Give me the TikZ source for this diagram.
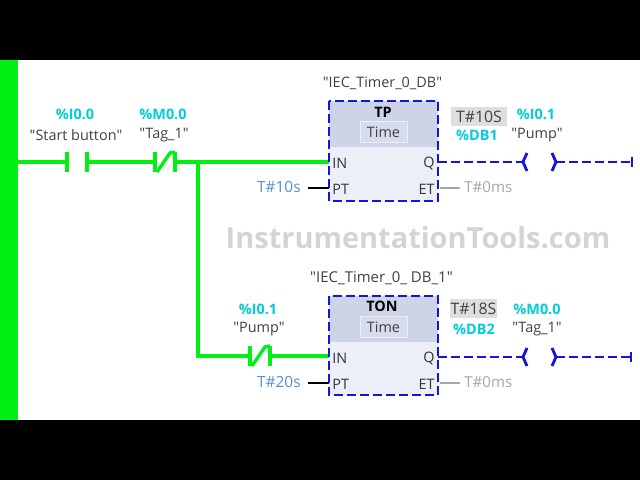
\documentclass[tikz,border=0pt]{standalone}
\usepackage{fontspec}
\setmainfont{Open Sans}[Ligatures=TeXOff]
\usetikzlibrary{positioning}
\definecolor{railgreen}{RGB}{0,240,20}
\definecolor{flowblue}{RGB}{20,20,225}
\definecolor{addrcyan}{RGB}{0,205,215}
\definecolor{timeblue}{RGB}{80,145,210}
\definecolor{headfill}{RGB}{205,212,232}
\definecolor{bodyfill}{RGB}{236,238,248}
\definecolor{timefill}{RGB}{214,220,236}
\tikzstyle{wire}   = [railgreen,line width=1.9pt]
\tikzstyle{wirebold} = [railgreen,line width=2.3pt]
\tikzstyle{flow}   = [flowblue,line width=1.5pt,dash pattern=on 5pt off 2.4pt]
\tikzstyle{flowthin} = [flowblue,line width=1.1pt,dash pattern=on 5pt off 2.4pt]
\tikzstyle{coil}   = [flowblue,line width=1.6pt]
\tikzstyle{addr}   = [text=addrcyan,font=\fontsize{8.2}{10}\selectfont\bfseries,inner sep=0pt]
\tikzstyle{tag}    = [text=black!75,font=\fontsize{8.2}{10}\selectfont,inner sep=0pt]
\tikzstyle{pin}    = [text=black!80,font=\fontsize{8.2}{10}\selectfont,inner sep=0pt]
\tikzstyle{timeval}= [text=timeblue,font=\fontsize{8.8}{10}\selectfont,inner sep=0pt]
\tikzstyle{zeroval}= [text=black!35,font=\fontsize{8.6}{10}\selectfont,inner sep=0pt]
\tikzstyle{preset} = [fill=black!13,text=black!75,font=\fontsize{9}{10}\selectfont,inner sep=0pt,minimum height=10.5pt]
\tikzstyle{unit}   = [fill=timefill,draw=bodyfill,inner sep=0pt,minimum width=26.6pt,minimum height=12.2pt,text=black!75,font=\fontsize{8.2}{10}\selectfont]
\begin{document}
\begin{tikzpicture}[x=0.02cm,y=-0.02cm]
	\useasboundingbox (0,0) rectangle (640,480);
	\fill[black] (0,0) rectangle (640,60);
	\fill[black] (0,420) rectangle (640,480);
	\fill[railgreen] (0,60) rectangle (18,420);

	% timer blocks
	\fill[bodyfill] (329,101) rectangle (438,201);
	\fill[headfill] (329,101) rectangle (438,147);
	\fill[bodyfill] (329,296) rectangle (438,395);
	\fill[headfill] (329,296) rectangle (438,342);
	\node[unit] (timeA) at (383.5,132) {Time};
	\node[unit] (timeB) at (383.5,327) {Time};
	\node[font=\fontsize{8.2}{10}\selectfont\bfseries,inner sep=0pt] (nameA) at (383,112) {TP};
	\node[font=\fontsize{8.2}{10}\selectfont\bfseries,inner sep=0pt] (nameB) at (382,306) {TON};
	\node[tag] (dbA) at (382.5,83) {"IEC\_Timer\_0\_DB"};
	\node[tag,font=\fontsize{8.5}{10}\selectfont] (dbB) at (381.5,278) {"IEC\_Timer\_0\_ DB\_1"};

	% block pins
	\node[pin,anchor=west] (inA) at (332,163) {IN};
	\node[pin,anchor=west] (ptA) at (332,189) {PT};
	\node[pin,anchor=east] (qA) at (435,163) {Q};
	\node[pin,anchor=east] (etA) at (435,189) {ET};
	\node[pin,anchor=west] (inB) at (332,358) {IN};
	\node[pin,anchor=west] (ptB) at (332,384) {PT};
	\node[pin,anchor=east] (qB) at (435,358) {Q};
	\node[pin,anchor=east] (etB) at (435,384) {ET};

	% labels
	\node[addr] (addrI) at (75,114) {\%I0.0};
	\node[tag] (tagStart) at (76,135) {"Start button"};
	\node[addr] (addrM) at (163,114) {\%M0.0};
	\node[tag] (tagOne) at (164,135) {"Tag\_1"};
	\node[addr] (addrP) at (258,309) {\%I0.1};
	\node[tag] (tagPump) at (259,329) {"Pump"};
	\node[timeval,anchor=east] (presetA) at (301,187) {T\#10s};
	\node[timeval,anchor=east] (presetB) at (301,382) {T\#20s};
	\node[zeroval,anchor=west] (zeroA) at (464,187) {T\#0ms};
	\node[zeroval,anchor=west] (zeroB) at (464,382) {T\#0ms};
	\node[preset,minimum width=31.7pt] (actA) at (479,116.5) {T\#10S};
	\node[preset,minimum width=26.6pt] (actB) at (473.5,308.5) {T\#18S};
	\node[addr] (instA) at (477,135) {\%DB1};
	\node[addr] (instB) at (474,329) {\%DB2};
	\node[addr] (addrCoilA) at (536,114) {\%I0.1};
	\node[tag] (tagCoilA) at (537,135) {"Pump"};
	\node[addr] (addrCoilB) at (537,309) {\%M0.0};
	\node[tag] (tagCoilB) at (537,329) {"Tag\_1"};

	% energized wiring
	\coordinate (railA) at (18,162);
	\coordinate (noL) at (67,162);
	\coordinate (noR) at (87,162);
	\coordinate (ncL) at (155,162);
	\coordinate (ncR) at (175,162);
	\coordinate (split) at (198,162);
	\coordinate (blockA) at (329,162);
	\coordinate (corner) at (198,356);
	\coordinate (pumpL) at (250,356);
	\coordinate (pumpR) at (270,356);
	\coordinate (blockB) at (329,356);
	\draw[wire] (railA) -- (noL);
	\draw[wire] (noR) -- (ncL);
	\draw[wire] (ncR) -- (blockA);
	\draw[wirebold] (split) -- (corner) -- (pumpL);
	\draw[wirebold] (pumpR) -- (blockB);
	\draw[wire] (noL)+(0,-10) -- +(0,10);
	\draw[wire] (noR)+(0,-10) -- +(0,10);
	\draw[wire] (ncL)+(0,-10) -- +(0,10);
	\draw[wire] (ncR)+(0,-10) -- +(0,10);
	\draw[wire] (ncL)+(2,10) -- +(15,-9) -- +(20,-10);
	\draw[wire] (pumpL)+(0,-10) -- +(0,10);
	\draw[wire] (pumpR)+(0,-10) -- +(0,10);
	\draw[wire] (pumpL)+(2,10) -- +(15,-9) -- +(20,-10);

	% parameter stubs
	\coordinate (stubPtA) at (308,188);
	\coordinate (stubPtB) at (308,383);
	\coordinate (pinPtA) at (329,188);
	\coordinate (pinPtB) at (329,383);
	\coordinate (pinEtA) at (440,188);
	\coordinate (pinEtB) at (440,383);
	\coordinate (stubEtA) at (460,188);
	\coordinate (stubEtB) at (460,383);
	\draw[black,line width=1.6pt] (stubPtA) -- (pinPtA);
	\draw[black,line width=0.8pt] (stubPtB) -- (pinPtB);
	\draw[black!35,line width=1.2pt] (pinEtA) -- (stubEtA);
	\draw[black!35,line width=0.7pt] (pinEtB) -- (stubEtB);

	% dashed outputs
	\draw[flow] (329,101) rectangle (438,201);
	\draw[flow] (329,296) rectangle (438,395);
	\coordinate (outA) at (438,162);
	\coordinate (coilAL) at (523,162);
	\coordinate (coilAR) at (556,162);
	\coordinate (endA) at (632,162);
	\coordinate (outB) at (438,357);
	\coordinate (coilBL) at (523,357);
	\coordinate (coilBR) at (556,357);
	\coordinate (endB) at (631,357);
	\draw[flow] (outA) -- (coilAL);
	\draw[flowthin] (coilAR) -- (endA);
	\draw[flow] (outB) -- (coilBL);
	\draw[flowthin] (coilBR) -- (endB);
	\draw[coil] (coilAL)+(4,-9) -- (coilAL) -- +(4,9);
	\draw[coil] (coilAR)+(-4,-9) -- (coilAR) -- +(-4,9);
	\draw[coil] (coilBL)+(4,-9) -- (coilBL) -- +(4,9);
	\draw[coil] (coilBR)+(-4,-9) -- (coilBR) -- +(-4,9);
	\draw[coil] (endA)+(0,-5) -- +(0,5);
	\draw[coil] (endB)+(0,-5) -- +(0,5);

	% watermark
	\node[text=black!17,font=\fontsize{16.5}{20}\selectfont\bfseries,inner sep=0pt] (mark) at (418,238) {InstrumentationTools.com};
\end{tikzpicture}
\end{document}
